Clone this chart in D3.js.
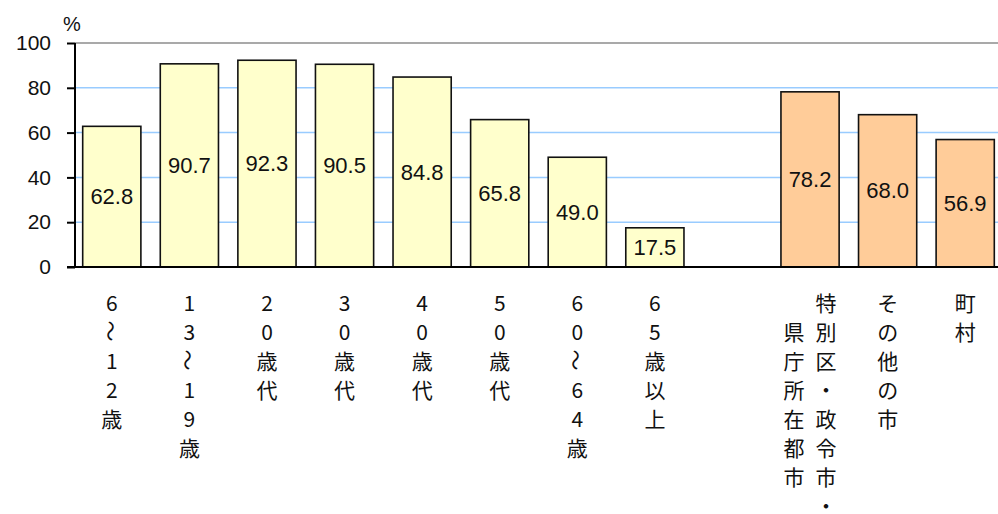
<!DOCTYPE html>
<html>
<head>
<meta charset="utf-8">
<script src="https://cdn.jsdelivr.net/npm/d3@7/dist/d3.min.js"></script>
<style>
  html, body { margin: 0; padding: 0; background: #fff; }
  svg { display: block; }
</style>
</head>
<body>
<svg id="chart" width="998" height="514"></svg>
<script>
// Categories (an empty slot separates the age groups from the municipality types)
const categories = ["6～12歳", "13～19歳", "20歳代", "30歳代", "40歳代", "50歳代", "60～64歳", "65歳以上", "", "特別区・政令市・県庁所在都市", "その他の市", "町村"];
const values = [62.8, 90.7, 92.3, 90.5, 84.8, 65.8, 49.0, 17.5, null, 78.2, 68.0, 56.9];
const groups = ["age", "age", "age", "age", "age", "age", "age", "age", null, "city", "city", "city"];
const yTicks = [0, 20, 40, 60, 80, 100];
const unitLabel = "%";

const colors = { age: "#FFFFCC", city: "#FFCC99" };

const svg = d3.select("#chart");
const plotLeft = 75, plotTop = 43, plotBottom = 267;

const x = d3.scaleBand()
  .domain(d3.range(categories.length))
  .range([73, 1004])
  .paddingInner(0.25)
  .paddingOuter(0.125);

const y = d3.scaleLinear().domain([0, 100]).range([plotBottom, plotTop]);

// Horizontal gridlines
svg.append("g")
  .selectAll("line")
  .data(yTicks.filter(t => t > 0 && t < 100))
  .join("line")
  .attr("x1", plotLeft).attr("x2", 998)
  .attr("y1", d => y(d)).attr("y2", d => y(d))
  .attr("stroke", "#99CCFF").attr("stroke-width", 1.5);

svg.append("line")
  .attr("x1", plotLeft).attr("x2", 998)
  .attr("y1", y(100)).attr("y2", y(100))
  .attr("stroke", "#8c8c8c").attr("stroke-width", 1.5);

// Bars
const barData = categories.map((c, i) => ({ i, c, v: values[i], g: groups[i] })).filter(d => d.v != null);

svg.append("g")
  .selectAll("rect")
  .data(barData)
  .join("rect")
  .attr("x", d => x(d.i))
  .attr("width", x.bandwidth())
  .attr("y", d => y(d.v))
  .attr("height", d => y(0) - y(d.v))
  .attr("fill", d => colors[d.g])
  .attr("stroke", "#111")
  .attr("stroke-width", 1.6);

// Value labels, centred inside each bar
svg.append("g")
  .selectAll("text")
  .data(barData)
  .join("text")
  .attr("x", d => x(d.i) + x.bandwidth() / 2)
  .attr("y", d => (y(d.v) + y(0)) / 2)
  .attr("text-anchor", "middle")
  .attr("dominant-baseline", "central")
  .attr("font-family", "'Liberation Sans', Arial, sans-serif")
  .attr("font-size", 22)
  .attr("fill", "#111")
  .text(d => d.v.toFixed(1));

// Y axis
const yAxis = d3.axisLeft(y).tickValues(yTicks).tickSize(8).tickPadding(16);
const ga = svg.append("g").attr("transform", `translate(${plotLeft},0)`).call(yAxis);
ga.select(".domain").remove();
ga.selectAll(".tick line").attr("stroke", "#000").attr("stroke-width", 2);
ga.selectAll(".tick text")
  .attr("font-family", "'Liberation Sans', Arial, sans-serif")
  .attr("font-size", 21)
  .attr("fill", "#111");

svg.append("line")
  .attr("x1", plotLeft).attr("x2", plotLeft)
  .attr("y1", y(100)).attr("y2", y(0))
  .attr("stroke", "#000").attr("stroke-width", 2);

svg.append("line")
  .attr("x1", plotLeft - 8).attr("x2", 998)
  .attr("y1", y(0)).attr("y2", y(0))
  .attr("stroke", "#000").attr("stroke-width", 2);

svg.append("text")
  .attr("x", 63).attr("y", 31)
  .attr("font-family", "'Liberation Sans', Arial, sans-serif")
  .attr("font-size", 20)
  .attr("fill", "#111")
  .text(unitLabel);

// Category labels in vertical writing: one character per row,
// columns of at most 8 characters running right to left.
const rowH = 29, colW = 32, maxRows = 8, firstRow = 302;
const labelG = svg.append("g")
  .attr("font-family", "'Noto Sans CJK JP', sans-serif")
  .attr("font-size", 21)
  .attr("fill", "#111");

categories.forEach((label, i) => {
  if (!label) return;
  const chars = Array.from(label);
  const cols = [];
  for (let k = 0; k < chars.length; k += maxRows) cols.push(chars.slice(k, k + maxRows));
  const cx = x(i) + x.bandwidth() / 2;
  const longest = cols[0].length;
  cols.forEach((col, ci) => {
    const colX = cx + (cols.length - 1) * colW / 2 - ci * colW;
    const offset = Math.floor((longest - col.length) / 2);
    col.forEach((ch, r) => {
      const cy = firstRow + (r + (cols.length > 1 ? offset : 0)) * rowH;
      const t = labelG.append("text")
        .attr("x", colX).attr("y", cy)
        .attr("text-anchor", "middle")
        .attr("dominant-baseline", "central")
        .text(ch);
      if (ch === "～") t.attr("transform", `rotate(90,${colX},${cy})`);
    });
  });
});
</script>
</body>
</html>
